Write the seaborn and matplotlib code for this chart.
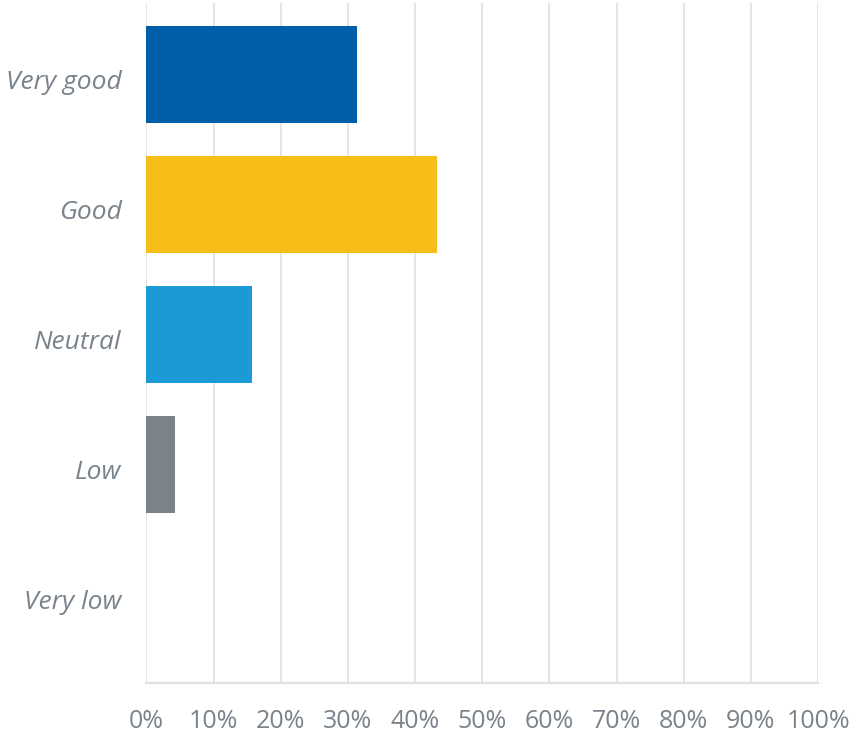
import numpy as np
import pandas as pd
from matplotlib import pyplot as plt
from matplotlib import transforms
from matplotlib.ticker import FuncFormatter
import seaborn as sns

categories = ['Very good', 'Good', 'Neutral', 'Low', 'Very low']
shares = [31.4, 43.2, 15.7, 4.3, 0.0]
bar_colors = ['#005EA8', '#F6BE16', '#1A9BD7', '#7B838A', '#7B838A']
tick_values = list(range(0, 101, 10))

sns.set_style('white')
plt.rcParams['font.family'] = ['Open Sans', 'DejaVu Sans']

df = pd.DataFrame({'category': categories, 'share': shares})

text_color = '#7A838B'
grid_color = '#E0E0E0'

fig = plt.figure(figsize=(8.53, 7.42), dpi=100)
ax = fig.add_axes([0.1717, 0.0795, 0.7873, 0.9165])

sns.barplot(data=df, x='share', y='category', hue='category',
            palette=bar_colors, order=categories, hue_order=categories,
            orient='h', width=0.74, saturation=1, legend=False, ax=ax,
            linewidth=0, zorder=3)

ax.set_xlim(0, 100)
ax.set_ylim(4.68, -0.55)
ax.set_xticks(tick_values)
ax.xaxis.set_major_formatter(FuncFormatter(lambda v, p: f'{v:.0f}%'))
ax.grid(axis='x', color=grid_color, linewidth=1.2, zorder=0)
ax.grid(axis='y', visible=False)
ax.set_axisbelow(True)

for side in ['top', 'right', 'left']:
    ax.spines[side].set_visible(False)
ax.spines['bottom'].set_color(grid_color)
ax.spines['bottom'].set_linewidth(1.6)

ax.tick_params(axis='x', length=0, pad=19, labelsize=18, labelcolor=text_color)
ax.tick_params(axis='y', length=0, pad=18, labelsize=19, labelcolor=text_color)

# nudge the category labels a little below the bar centres
shift = transforms.ScaledTranslation(0, -5 / 100, fig.dpi_scale_trans)
for lbl in ax.get_yticklabels():
    lbl.set_style('italic')
    lbl.set_transform(lbl.get_transform() + shift)

ax.set_xlabel('')
ax.set_ylabel('')

plt.savefig('out.png', dpi=100)
